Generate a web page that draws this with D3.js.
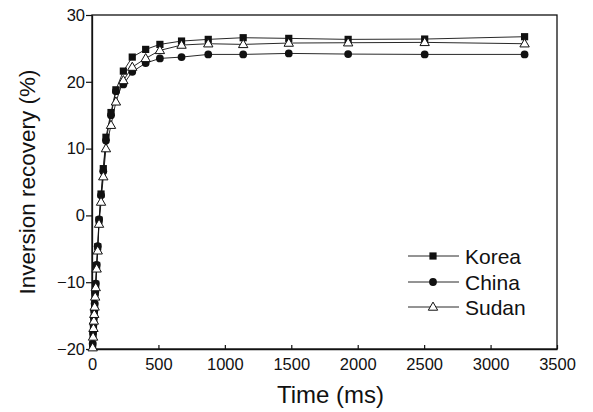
<!DOCTYPE html>
<html lang="en">
<head>
<meta charset="UTF-8">
<title>Inversion recovery</title>
<script src="https://d3js.org/d3.v7.min.js"></script>
<style>
  body { margin: 0; background: #fff; }
  text { font-family: "Liberation Sans", Arial, sans-serif; fill: #111; }
</style>
</head>
<body>
<script>
// time points (ms)
const time = [5, 8, 11, 14, 17, 20, 24, 28, 35, 43, 53, 68, 85, 105, 143, 180, 236, 303, 404, 511, 674, 875, 1138, 1481, 1928, 2504, 3256];
const korea = [-19.4, -17.8, -16.5, -15.5, -14.5, -13.4, -11.6, -10.3, -7.5, -4.7, -0.7, 3.2, 7.0, 11.7, 15.4, 18.8, 21.6, 23.7, 24.85, 25.6, 26.1, 26.35, 26.6, 26.5, 26.35, 26.4, 26.75];
const china = [-19.2, -17.6, -16.3, -15.3, -14.3, -13.2, -11.5, -10.2, -7.4, -4.6, -0.6, 3.0, 6.6, 11.2, 15.0, 18.6, 19.6, 21.5, 22.8, 23.5, 23.7, 24.1, 24.1, 24.25, 24.15, 24.1, 24.1];
const sudan = [-19.8, -18.2, -16.9, -15.8, -14.8, -13.7, -12.2, -10.8, -8.0, -5.3, -1.3, 2.0, 5.8, 10.0, 13.5, 17.0, 20.2, 22.2, 23.5, 24.7, 25.5, 25.7, 25.6, 25.8, 25.85, 25.9, 25.7];
const seriesNames = ["Korea", "China", "Sudan"];
const xTicks = [0, 500, 1000, 1500, 2000, 2500, 3000, 3500];
const yTicks = [-20, -10, 0, 10, 20, 30];

const W = 593, H = 412;
const m = {left: 92, right: 36, top: 15, bottom: 63};

const svg = d3.select("body").append("svg")
    .attr("width", W).attr("height", H);

const x = d3.scaleLinear().domain([0, 3500]).range([m.left, W - m.right]);
const y = d3.scaleLinear().domain([-20, 30]).range([H - m.bottom, m.top]);

// frame
svg.append("rect")
    .attr("x", x(0)).attr("y", y(30))
    .attr("width", x(3500) - x(0)).attr("height", y(-20) - y(30))
    .attr("fill", "none").attr("stroke", "#111").attr("stroke-width", 1.3);

// axes
const xAxis = svg.append("g")
    .attr("transform", `translate(0,${y(-20)})`)
    .call(d3.axisBottom(x).tickValues(xTicks).tickFormat(d3.format("d"))
        .tickSizeInner(-4).tickSizeOuter(0).tickPadding(9));
const yAxis = svg.append("g")
    .attr("transform", `translate(${x(0)},0)`)
    .call(d3.axisLeft(y).tickValues(yTicks).tickFormat(d3.format("d"))
        .tickSize(6).tickSizeOuter(0).tickPadding(1));
[xAxis, yAxis].forEach(g => {
    g.select(".domain").attr("stroke", "#111").attr("stroke-width", 1.3);
    g.selectAll(".tick line").attr("stroke", "#111").attr("stroke-width", 1.2);
    g.selectAll(".tick text").attr("font-size", 16.5)
        .style("font-family", "Liberation Sans, Arial, sans-serif").attr("fill", "#111");
});

// axis titles
svg.append("text")
    .attr("x", (x(0) + x(3500)) / 2 + 6).attr("y", 403)
    .attr("text-anchor", "middle").attr("font-size", 24)
    .text("Time (ms)");
svg.append("text")
    .attr("transform", `translate(35,${(y(-20) + y(30)) / 2}) rotate(-90)`)
    .attr("text-anchor", "middle").attr("font-size", 22.5)
    .text("Inversion recovery (%)");

// marker drawing
function marker(g, type, cx, cy) {
    if (type === "Korea") {
        g.append("rect").attr("x", cx - 3.6).attr("y", cy - 3.6)
            .attr("width", 7.2).attr("height", 7.2).attr("fill", "#111");
    } else if (type === "China") {
        g.append("circle").attr("cx", cx).attr("cy", cy).attr("r", 3.9).attr("fill", "#111");
    } else {
        g.append("path")
            .attr("d", d3.symbol().type(d3.symbolTriangle).size(38)())
            .attr("transform", `translate(${cx},${cy + 0.5})`)
            .attr("fill", "#fff").attr("stroke", "#111").attr("stroke-width", 1);
    }
}

const allSeries = [korea, china, sudan];
const line = d3.line().x(d => x(d[0])).y(d => y(d[1]));

// draw in order so triangles stay visible
[1, 0, 2].forEach(i => {
    const name = seriesNames[i];
    const pts = time.map((t, j) => [t, allSeries[i][j]]);
    const g = svg.append("g");
    g.append("path").datum(pts)
        .attr("d", line).attr("fill", "none")
        .attr("stroke", "#111").attr("stroke-width", 0.9);
    pts.forEach(p => marker(g, name, x(p[0]), y(p[1])));
});

// legend
const legY = [256, 282, 307];
seriesNames.forEach((name, i) => {
    const g = svg.append("g");
    g.append("line").attr("x1", 408).attr("x2", 459)
        .attr("y1", legY[i]).attr("y2", legY[i])
        .attr("stroke", "#111").attr("stroke-width", 0.9);
    marker(g, name, 433, legY[i]);
    g.append("text").attr("x", 465).attr("y", legY[i] + 7.5)
        .attr("font-size", 21).text(name);
});
</script>
</body>
</html>
